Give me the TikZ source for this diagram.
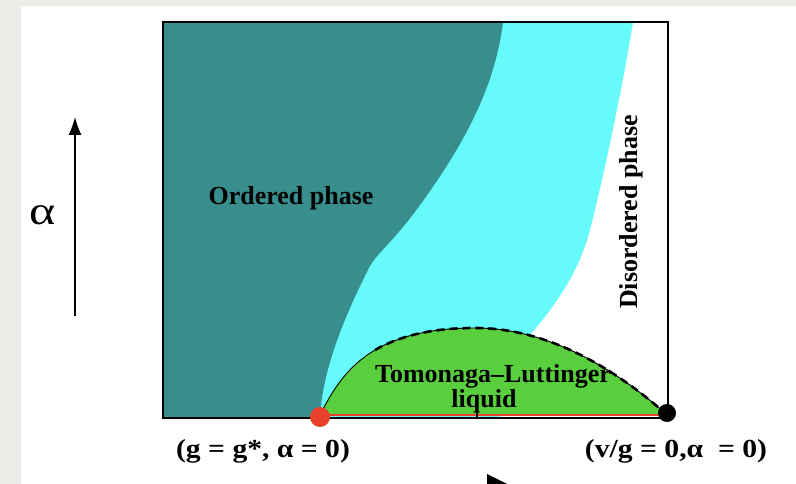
\documentclass[tikz,border=0pt]{standalone}
\usepackage{fontspec}
\setmainfont{Liberation Serif}
\usetikzlibrary{arrows.meta}
\definecolor{bgframe}{RGB}{237,236,232}
\definecolor{teal1}{RGB}{55,142,140}
\definecolor{cyan1}{RGB}{102,250,250}
\definecolor{green1}{RGB}{90,207,62}
\definecolor{red1}{RGB}{232,64,42}
\tikzset{
  lbl/.style={font=\fontsize{26}{28}\selectfont\bfseries, inner sep=0pt},
  btm/.style={font=\fontsize{26}{28}\selectfont\bfseries, inner sep=0pt, xscale=1.14},
}
\begin{document}
\begin{tikzpicture}[x=1pt,y=-1pt]
\useasboundingbox (0,0) rectangle (796,484);
\clip (0,0) rectangle (796,484);
% background frame
\fill[bgframe] (0,0) rectangle (796,484);
\fill[white] (21,6) rectangle (796,484);
% cyan band
\fill[cyan1] (163,22) -- (633,22) .. controls (622,90) and (605,170) .. (590,230)
  .. controls (580,268) and (560,300) .. (530,335) -- (500,418) -- (163,418) -- cycle;
% teal region
\fill[teal1] (163,22) -- (503,22) .. controls (495,90) and (460,150) .. (420,205)
  .. controls (395,240) and (378,252) .. (370,266)
  .. controls (345,315) and (322,370) .. (320,418) -- (163,418) -- cycle;
% green dome
\fill[green1] (320,415) .. controls (335,385) and (350,365) .. (375,350)
  .. controls (405,333) and (440,328) .. (475,328)
  .. controls (545,328) and (610,365) .. (665,413) -- (665,415) -- cycle;
\draw[line width=0.9pt] (320,415) .. controls (335,385) and (350,365) .. (375,350);
\draw[line width=0.9pt] (375,350) .. controls (405,333) and (440,328) .. (475,328)
  .. controls (545,328) and (610,365) .. (665,413);
\draw[line width=2.6pt, dash pattern=on 8pt off 5pt] (375,350) .. controls (405,333) and (440,328) .. (475,328)
  .. controls (545,328) and (610,365) .. (665,413);
% box
\draw[line width=1.6pt] (163,22) rectangle (668,418);
% red line
\draw[red1, line width=2pt] (320,415) -- (665,415);
\draw[line width=1.4pt] (477,409) -- (477,418);
% dots
\coordinate (gs) at (320,417);
\coordinate (vg) at (667,413);
\fill[red1] (gs) circle (10);
\fill[black] (vg) circle (9);
% labels
\node[lbl] (ord) at (291,198) {Ordered phase};
\node[lbl, rotate=90] (dis) at (631,212) {Disordered phase};
\node[lbl, anchor=base] (tl) at (493,382) {Tomonaga–Luttinger};
\node[lbl, anchor=base] (liq) at (484,407) {liquid};
\node[btm] (lg) at (263,451) {(g = g*, α = 0)};
\node[btm] (lv) at (676,451) {(v/g = 0,α \ = 0)};
% alpha axis
\node[font=\fontsize{40}{42}\selectfont, inner sep=0pt, xscale=1.25] (al) at (43,215) {α};
\coordinate (a0) at (75,316);
\coordinate (a1) at (75,117);
\draw[line width=1.3pt, -{Latex[length=18pt,width=13pt]}] (a0) -- (a1);
% bottom cut arrow head
\fill[black] (487,474) -- (515,488) -- (487,492) -- cycle;
\end{tikzpicture}
\end{document}
